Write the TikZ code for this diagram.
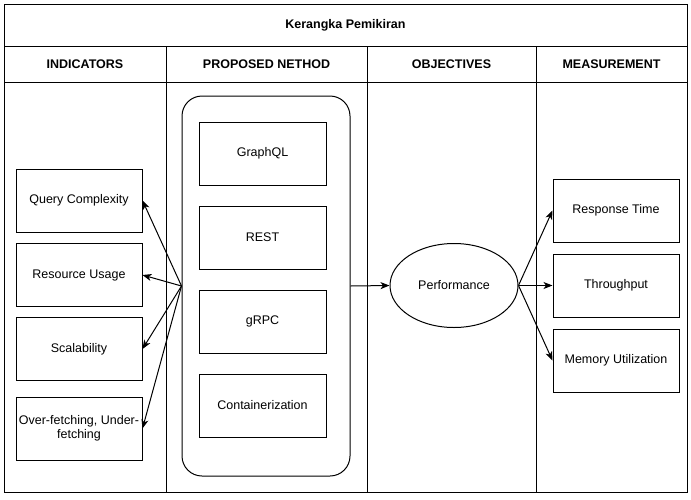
\documentclass[tikz,border=0pt]{standalone}
\usepackage{fontspec}
\setmainfont{Liberation Sans}
\usetikzlibrary{arrows.meta,shapes.geometric}

\begin{document}
\begin{tikzpicture}[
                x=1pt, y=-1pt,
                every node/.style={font=\fontsize{12.5}{14.5}\selectfont, align=center},
                header/.style={font=\fontsize{12.5}{14.5}\selectfont\bfseries},
                box/.style={draw, line width=1pt, minimum width=126pt, minimum height=63pt, inner sep=1pt},
                group/.style={draw, line width=1pt, rounded corners=20pt, minimum width=168pt, minimum height=380pt},
                goal/.style={draw, ellipse, line width=1pt, minimum width=128pt, minimum height=84pt},
                frame/.style={line width=1pt},
                link/.style={line width=1pt, -{Stealth[length=9pt,width=7pt,inset=2.5pt]}}
            ]

            \useasboundingbox (0,0) rectangle (691,499);

            \draw[frame] (4,4) rectangle (687,492);
            \draw[frame] (4,46) -- (687,46);
            \draw[frame] (4,82) -- (687,82);
            \foreach \x in {166,367,536}
                \draw[frame] (\x,46) -- (\x,492);

            \node[header] (title) at (345.5,25) {Kerangka Pemikiran};
            \node[header] (hIndicators) at (85,64) {INDICATORS};
            \node[header] (hMethod) at (266.5,64) {PROPOSED NETHOD};
            \node[header] (hObjectives) at (451.5,64) {OBJECTIVES};
            \node[header] (hMeasurement) at (611.5,64) {MEASUREMENT};

            \node[box] (query) at (79,200.5) {Query Complexity};
            \node[box] (resource) at (79,275) {Resource Usage};
            \node[box] (scalability) at (79,349) {Scalability};
            \node[box] (fetching) at (79,428.5) {Over-fetching, Under-\\fetching};

            \node[group] (method) at (266,286) {};
            \node[box, minimum width=127pt] (graphql) at (262.5,153.5) {GraphQL};
            \node[box, minimum width=127pt] (rest) at (262.5,237.5) {REST};
            \node[box, minimum width=127pt] (grpc) at (262.5,321.5) {gRPC};
            \node[box, minimum width=127pt] (container) at (262.5,405.5) {Containerization};

            \node[goal] (performance) at (454,285.5) {Performance};

            \node[box] (response) at (616,210.5) {Response Time};
            \node[box] (throughput) at (616,285.5) {Throughput};
            \node[box] (memory) at (616,360.5) {Memory Utilization};

            \foreach \target in {query,resource,scalability,fetching}
                \draw[link] (method.west) -- (\target.east);
            \draw[link] (method.east) -- (performance.west);
            \foreach \target in {response,throughput,memory}
                \draw[link] (performance.east) -- (\target.west);

        \end{tikzpicture}
\end{document}
